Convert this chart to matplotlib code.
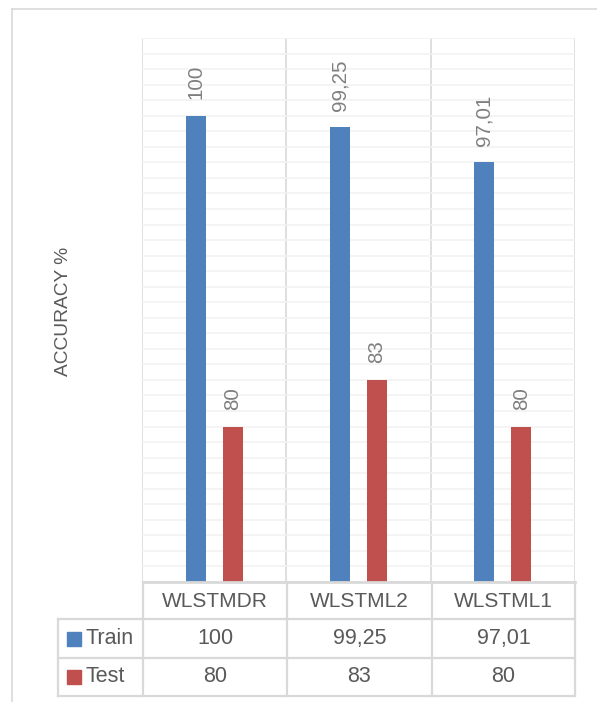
import matplotlib
matplotlib.use('Agg')
import matplotlib.pyplot as plt
import numpy as np

plt.rcParams['font.family'] = ['Liberation Sans', 'DejaVu Sans']

# data
categories = ['WLSTMDR', 'WLSTML2', 'WLSTML1']
train_acc = [100, 99.25, 97.01]
test_acc = [80, 83, 80]
train_lbl = ['100', '99,25', '97,01']
test_lbl = ['80', '83', '80']
series_names = ['Train', 'Test']

BLUE = '#4f81bd'
RED = '#c0504d'
GRID = '#f2f2f2'
LINE = '#d9d9d9'
TXT = '#595959'
LBL = '#7f7f7f'

W, H = 597, 702
fig = plt.figure(figsize=(W / 100, H / 100), dpi=100)

# outer chart frame (top + left)
fig.add_artist(plt.Line2D([12 / W, 1], [1 - 9 / H, 1 - 9 / H], color=LINE, lw=1.2))
fig.add_artist(plt.Line2D([12 / W, 12 / W], [0, 1 - 9 / H], color=LINE, lw=1.2))

# plot area in pixels
x0, x1, y0, y1 = 142, 575, 38, 582
ax = fig.add_axes([x0 / W, 1 - y1 / H, (x1 - x0) / W, (y1 - y0) / H])
x = np.arange(len(categories))
bw = 0.138
off = 0.128
ax.bar(x - off, train_acc, bw, color=BLUE, zorder=3)
ax.bar(x + off, test_acc, bw, color=RED, zorder=3)
ax.set_xlim(-0.5, len(categories) - 0.5)
ax.set_ylim(70, 105)
ax.set_yticks(np.arange(70, 106, 1))
ax.yaxis.grid(True, color=GRID, lw=1.2, zorder=0)
ax.tick_params(left=False, bottom=False, labelleft=False, labelbottom=False)
for s in ax.spines.values():
    s.set_visible(False)
for b in np.arange(-0.5, len(categories), 1):
    ax.axvline(b, color=LINE, lw=1.2, zorder=1)

for xi, v, t in zip(x - off, train_acc, train_lbl):
    ax.annotate(t, (xi, v), xytext=(0, 12), textcoords='offset points',
                rotation=90, ha='center', va='bottom', fontsize=14.8, color=LBL)
for xi, v, t in zip(x + off, test_acc, test_lbl):
    ax.annotate(t, (xi, v), xytext=(0, 12), textcoords='offset points',
                rotation=90, ha='center', va='bottom', fontsize=14.8, color=LBL)

# y axis title
fig.text(63 / W, 1 - 311 / H, 'ACCURACY %', rotation=90, ha='center', va='center',
         fontsize=13.8, color=TXT)

# data table in pixel coordinates
tx = fig.add_axes([0, 0, 1, 1])
tx.set_xlim(0, W)
tx.set_ylim(H, 0)
tx.axis('off')

col_edges = [143, 287, 432, 575]
row_edges = [582, 619, 658, 696]
tab_left = 58

tx.plot([col_edges[0], col_edges[-1]], [row_edges[0]] * 2, color=LINE, lw=2)
for ry in row_edges[1:]:
    tx.plot([tab_left, col_edges[-1]], [ry, ry], color=LINE, lw=1.6)
for cx in col_edges:
    tx.plot([cx, cx], [row_edges[0], row_edges[-1]], color=LINE, lw=1.6)
tx.plot([tab_left, tab_left], [row_edges[1], row_edges[-1]], color=LINE, lw=1.6)

for i, c in enumerate(categories):
    cx = (col_edges[i] + col_edges[i + 1]) / 2
    tx.text(cx, (row_edges[0] + row_edges[1]) / 2 + 1, c, ha='center', va='center',
            fontsize=15, color=TXT)

rows = [(series_names[0], BLUE, train_lbl), (series_names[1], RED, test_lbl)]
for r, (name, col, vals) in enumerate(rows):
    cy = (row_edges[r + 1] + row_edges[r + 2]) / 2
    tx.add_patch(plt.Rectangle((67, cy - 7), 14, 14, color=col))
    tx.text(86, cy, name, ha='left', va='center', fontsize=15.5, color=TXT)
    for i, v in enumerate(vals):
        cx = (col_edges[i] + col_edges[i + 1]) / 2
        tx.text(cx, cy, v, ha='center', va='center', fontsize=15.5, color=TXT)

fig.savefig('out.png', dpi=100)
